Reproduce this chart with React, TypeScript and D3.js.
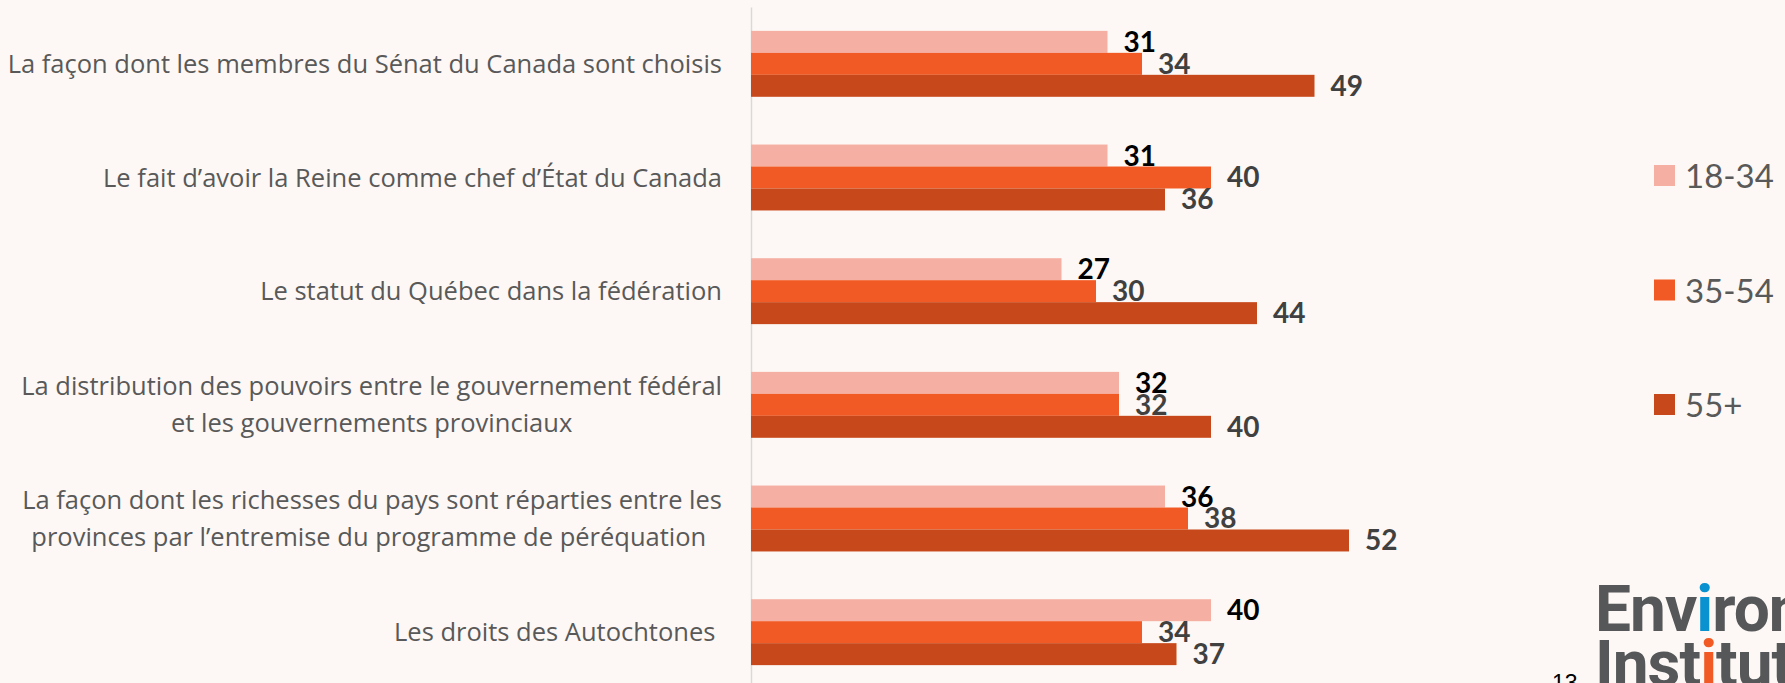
import React, { useEffect, useRef } from 'react';
import * as d3 from 'd3';

// categories, each as lines of text
const categories = [
  ['La façon dont les membres du Sénat du Canada sont choisis'],
  ['Le fait d’avoir la Reine comme chef d’État du Canada'],
  ['Le statut du Québec dans la fédération'],
  ['La distribution des pouvoirs entre le gouvernement fédéral', 'et les gouvernements provinciaux'],
  ['La façon dont les richesses du pays sont réparties entre les', 'provinces par l’entremise du programme de péréquation '],
  ['Les droits des Autochtones '],
];
const series = ['18-34', '35-54', '55+'];
const age1834 = [31, 31, 27, 32, 36, 40];
const age3554 = [34, 40, 30, 32, 38, 34];
const age55 = [49, 36, 44, 40, 52, 37];
const seriesValues = [age1834, age3554, age55];
const colors = ['#F6AFA3', '#F15A24', '#C7491B'];
const valueColors = ['#000000', '#404040', '#404040'];

const W = 1785;
const H = 683;

const App = () => {
  const svgRef = useRef<SVGSVGElement>(null);

  useEffect(() => {
    const svg = d3.select(svgRef.current);
    svg.selectAll('*').remove();

    svg.append('rect').attr('width', W).attr('height', H).attr('fill', '#FDF8F5');

    const x = d3.scaleLinear().domain([0, 60]).range([751, 1441]);
    const y = d3
      .scaleBand<number>()
      .domain(d3.range(categories.length))
      .range([7, 689])
      .paddingInner(0.42)
      .paddingOuter(0.21);
    const ys = d3.scaleBand<string>().domain(series).range([0, y.bandwidth()]);

    // vertical axis line
    const axis = d3.axisLeft(y).tickSize(0).tickSizeOuter(0).tickFormat(() => '');
    const ax = svg.append('g').attr('transform', `translate(${x(0)},0)`).call(axis);
    ax.select('.domain').attr('stroke', '#D9D9D9').attr('stroke-width', 1.5);

    // bars
    series.forEach((s, si) => {
      const vals = seriesValues[si];
      svg
        .append('g')
        .selectAll('rect')
        .data(vals)
        .join('rect')
        .attr('x', x(0))
        .attr('y', (d, i) => (y(i) as number) + (ys(s) as number))
        .attr('width', (d) => x(d) - x(0))
        .attr('height', ys.bandwidth())
        .attr('fill', colors[si]);

      svg
        .append('g')
        .selectAll('text')
        .data(vals)
        .join('text')
        .attr('x', (d) => x(d) + 16)
        .attr('y', (d, i) => (y(i) as number) + (ys(s) as number) + ys.bandwidth() - 1)
        .attr('font-family', 'Lato, sans-serif')
        .attr('font-weight', 700)
        .attr('font-size', 28)
        .attr('fill', valueColors[si])
        .text((d) => d);
    });

    // category labels (right aligned block, lines centered inside)
    const labelRight = 722;
    categories.forEach((lines, i) => {
      const cy = (y(i) as number) + y.bandwidth() / 2;
      const g = svg.append('g');
      const texts = g
        .selectAll('text')
        .data(lines)
        .join('text')
        .attr('y', (d, li) => cy + 9 + (li - (lines.length - 1) / 2) * 37)
        .attr('font-family', '"Open Sans", sans-serif')
        .attr('font-size', 25.5)
        .attr('fill', '#595959')
        .style('white-space', 'pre')
        .text((d) => d);
      let maxW = 0;
      texts.each(function () {
        maxW = Math.max(maxW, (this as SVGTextElement).getComputedTextLength());
      });
      texts.attr('x', labelRight - maxW / 2).attr('text-anchor', 'middle');
    });

    // legend
    const legend = svg
      .append('g')
      .selectAll('g')
      .data(series)
      .join('g')
      .attr('transform', (d, i) => `translate(1654,${165 + i * 114.5})`);
    legend
      .append('rect')
      .attr('width', 21)
      .attr('height', 21)
      .attr('fill', (d, i) => colors[i]);
    legend
      .append('text')
      .attr('x', 31)
      .attr('y', 23)
      .attr('font-family', 'Lato, sans-serif')
      .attr('font-size', 33)
      .attr('fill', '#595959')
      .text((d) => d);

    // page number
    svg
      .append('text')
      .attr('x', 1552)
      .attr('y', 691)
      .attr('font-family', 'Liberation Sans, Arial, sans-serif')
      .attr('font-size', 23)
      .attr('fill', '#000')
      .text('13');

    // logo
    const logo = svg
      .append('g')
      .attr('font-family', 'Roboto, sans-serif')
      .attr('font-weight', 700)
      .attr('font-size', 64)
      .attr('fill', '#555759')
      .attr('letter-spacing', -1);
    const t1 = logo.append('text').attr('x', 1595).attr('y', 631);
    t1.append('tspan').text('Env');
    t1.append('tspan').attr('fill', '#0A91D0').text('i');
    t1.append('tspan').text('ronics');
    const t2 = logo.append('text').attr('x', 1595).attr('y', 686);
    t2.append('tspan').text('Inst');
    t2.append('tspan').attr('fill', '#F15A24').text('i');
    t2.append('tspan').text('tute');
  }, []);

  return (
    <svg
      ref={svgRef}
      width={W}
      height={H}
      style={{ position: 'absolute', left: 0, top: 0, display: 'block' }}
    />
  );
};

export default App;
